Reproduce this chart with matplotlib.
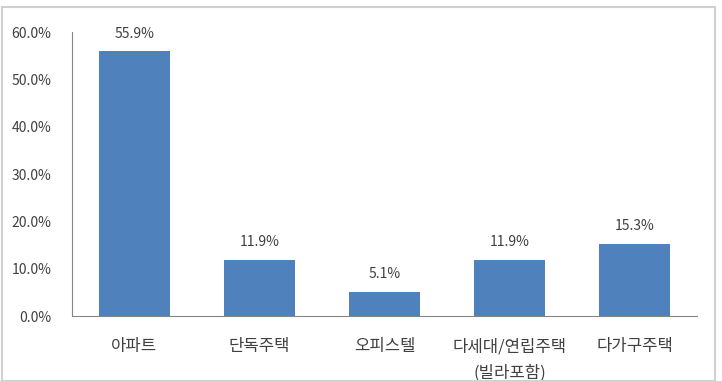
import matplotlib
matplotlib.use("Agg")
import matplotlib.pyplot as plt
from matplotlib.patches import Rectangle

plt.rcParams['font.family'] = ['Noto Sans CJK KR', 'DejaVu Sans']

categories = ['아파트', '단독주택', '오피스텔', '다세대/연립주택\n(빌라포함)', '다가구주택']
values = [55.9, 11.9, 5.1, 11.9, 15.3]
yticks = [0, 10, 20, 30, 40, 50, 60]

W, H = 722, 381
fig = plt.figure(figsize=(W/100, H/100), dpi=100)
fig.patches.append(Rectangle((2/W, 0), 713/W, (H-7)/H, transform=fig.transFigure,
                             fill=False, edgecolor='#D0D0D0', linewidth=1.5))
ax = fig.add_axes([72/W, 1-316/H, 625/W, 284/H])
x = list(range(len(categories)))
bars = ax.bar(x, values, width=0.57, color='#4F81BD')
for xi, v in zip(x, values):
    ax.text(xi, v + 2.2, f'{v:.1f}%', ha='center', va='bottom', fontsize=10, color='#404040')
ax.set_xlim(-0.5, len(categories) - 0.5)
ax.set_ylim(0, 60)
ax.set_yticks(yticks)
ax.set_yticklabels([f'{t:.1f}%' for t in yticks], fontsize=10, color='#404040')
ax.set_xticks(x)
ax.set_xticklabels(categories, fontsize=12, color='#404040', linespacing=1.7, va='top')
ax.tick_params(axis='x', length=0, pad=16)
ax.tick_params(axis='y', length=0, pad=15)
for s in ['top', 'right']:
    ax.spines[s].set_visible(False)
ax.spines['left'].set_color('#868686')
ax.spines['bottom'].set_color('#868686')
fig.savefig('out.png', dpi=100)
